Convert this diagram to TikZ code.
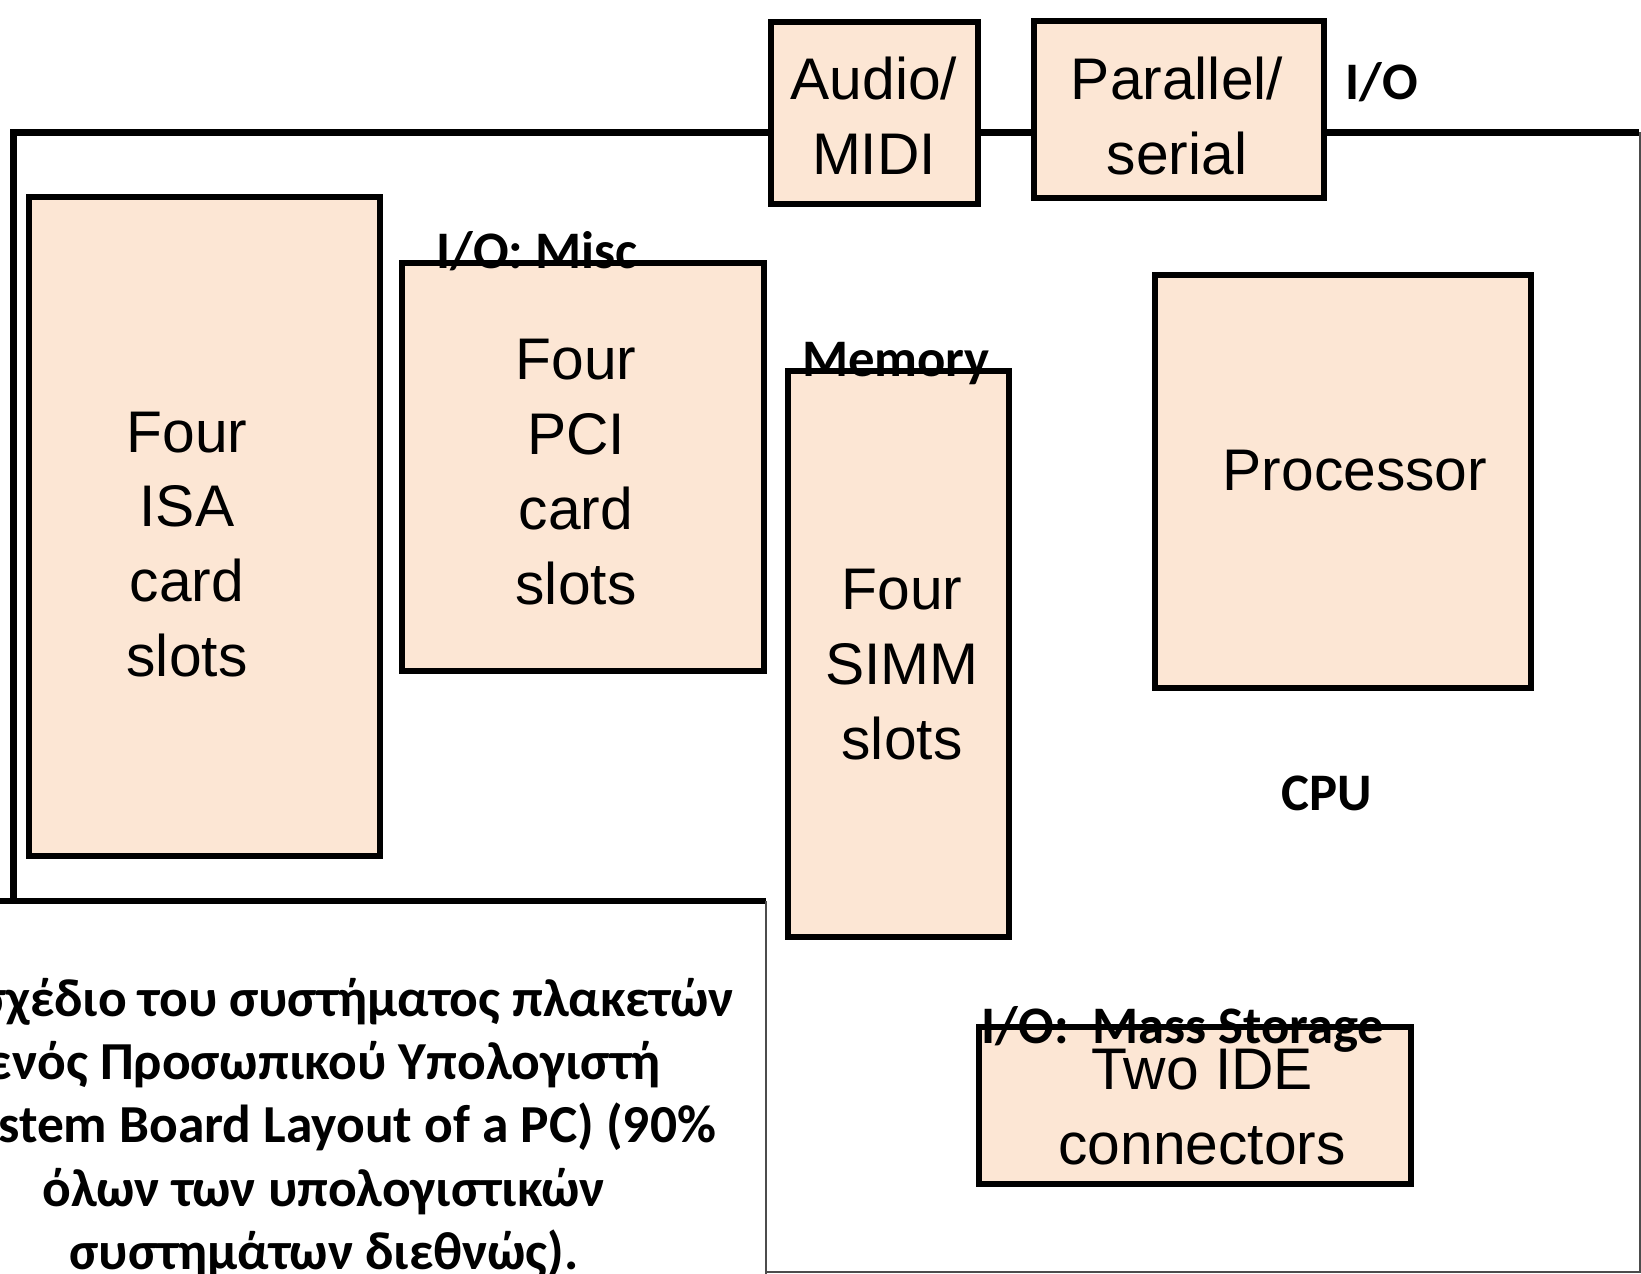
\documentclass[tikz,border=0pt]{standalone}
\usepackage{fontspec}
\setmainfont{Liberation Sans}
\newfontfamily\calibri{Carlito}
\definecolor{slotfill}{RGB}{252,230,212}

\begin{document}
\begin{tikzpicture}[x=0.01cm,y=-0.01cm]
        \tikzstyle{part} = [rectangle, draw=black, line width=0.065cm, fill=slotfill, inner sep=0pt]
        \tikzstyle{parttext} = [align=center, font=\fontsize{16.7}{21.3}\selectfont]
        \tikzstyle{tag} = [font=\calibri\bfseries\fontsize{15}{18}\selectfont]
        \tikzstyle{edge} = [line width=0.065cm]
        \tikzstyle{rim} = [line width=0.02cm, draw=black!70]

        \useasboundingbox (0,0) rectangle (1641,1274);

        % board outline
        \draw [edge] (13.5,900) -- (13.5,132.5) -- (1639,132.5);
        \draw [rim] (1639.5,132.5) -- (1639.5,1272.5) -- (766,1272.5);

        \node (audio) [part, minimum width=2.07cm, minimum height=1.82cm] at (874.5,113) {};
        \node (parallel) [part, minimum width=2.90cm, minimum height=1.77cm] at (1179,109.5) {};
        \node (isa) [part, minimum width=3.51cm, minimum height=6.59cm] at (204.5,526.5) {};
        \node (pci) [part, minimum width=3.62cm, minimum height=4.08cm] at (583,467) {};
        \node (simm) [part, minimum width=2.21cm, minimum height=5.66cm] at (898.5,654) {};
        \node (processor) [part, minimum width=3.76cm, minimum height=4.13cm] at (1343,481.5) {};
        \node (ide) [part, minimum width=4.32cm, minimum height=1.57cm] at (1195,1105.5) {};

        \node (audiotext) [parttext] at (874,116) {Audio/\\MIDI};
        \node (paralleltext) [parttext] at (1177,116) {Parallel/\\serial};
        \node (isatext) [parttext] at (187,544.5) {Four\\ISA\\card\\slots};
        \node (pcitext) [parttext] at (576,472) {Four\\PCI\\card\\slots};
        \node (simmtext) [parttext] at (902,665) {Four\\SIMM\\slots};
        \node (processortext) [parttext] at (1355,471) {Processor};
        \node (idetext) [parttext] at (1202,1107) {Two IDE\\connectors};

        % caption box
        \draw [edge] (-20,901) -- (766,901);
        \draw [rim] (766,901) -- (766,1274);
        \node (caption) [align=center, font=\calibri\bfseries\fontsize{15.2}{18}\selectfont] at (324,1128)
            {Το σχέδιο του συστήματος πλακετών\\ενός Προσωπικού Υπολογιστή\\(System Board Layout of a PC) (90\%\\όλων των υπολογιστικών\\συστημάτων διεθνώς).};

        \node (io) [tag] at (1382,82) {I/O};
        \node (misc) [tag] at (537,251) {I/O: Misc};
        \node (memory) [tag] at (896,364) {Memory};
        \node (cpu) [tag] at (1327,793) {CPU};
        \node (mass) [tag] at (1183,1029) {I/O:\ \ Mass Storage};
    \end{tikzpicture}
\end{document}
